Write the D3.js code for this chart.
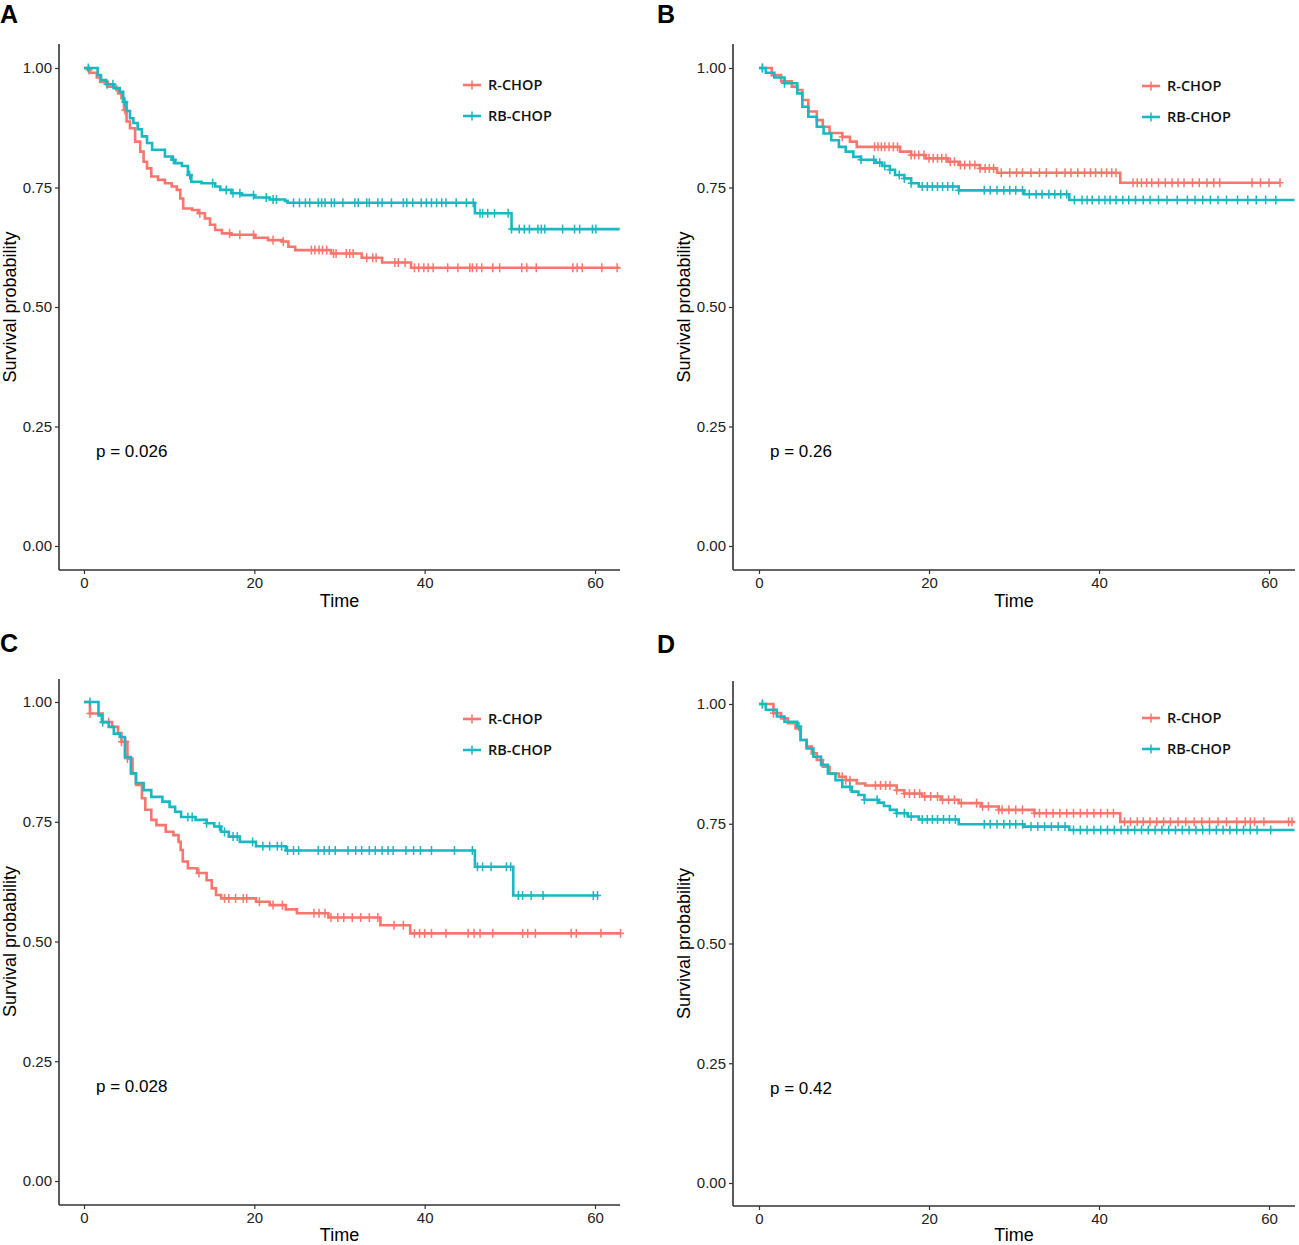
<!DOCTYPE html>
<html>
<head>
<meta charset="utf-8">
<script src="https://cdn.jsdelivr.net/npm/d3@7"></script>
<style>
  html, body { margin: 0; padding: 0; background: #fff; }
  svg { display: block; }
</style>
</head>
<body>
<svg id="chart" width="1299" height="1245"></svg>
<script>
// ---------------- DATA ----------------
const panelLetters = ["A", "B", "C", "D"];
const groups = ["R-CHOP", "RB-CHOP"];
const pValues = ["p = 0.026", "p = 0.26", "p = 0.028", "p = 0.42"];
const timeTicks = [0, 20, 40, 60];
const survTicks = [0, 0.25, 0.5, 0.75, 1.0];
const survTickLabels = ["0.00", "0.25", "0.50", "0.75", "1.00"];
const xTitle = "Time";
const yTitle = "Survival probability";

// Panel A
const A_rchop_time = [0, 0.5, 0.7, 1.5, 1.9, 2.8, 3.8, 4.0, 4.4, 4.7, 5.0, 5.4, 6.0, 6.6, 7.0, 7.4, 7.9, 8.7, 9.5, 10.3, 10.9, 11.3, 11.65, 12.7, 13.4, 14.2, 14.8, 15.4, 16.2, 17.3, 20.1, 21.6, 23.2, 24.0, 24.8, 29.0, 32.6, 35.0, 38.4, 62.9];
const A_rchop_surv = [1.0, 0.996, 0.99, 0.98, 0.971, 0.961, 0.954, 0.947, 0.937, 0.912, 0.888, 0.874, 0.846, 0.825, 0.804, 0.79, 0.773, 0.766, 0.759, 0.752, 0.745, 0.727, 0.706, 0.703, 0.696, 0.685, 0.672, 0.661, 0.654, 0.651, 0.645, 0.640, 0.637, 0.626, 0.619, 0.612, 0.603, 0.593, 0.582, 0.582];
const A_rchop_censor = [0.6, 4.8, 13.6, 17.1, 18.3, 19.9, 22.2, 23.4, 26.7, 27.1, 27.6, 28.0, 28.5, 29.3, 29.6, 30.8, 31.2, 31.6, 33.2, 33.9, 34.3, 36.5, 36.9, 37.7, 38.8, 39.3, 39.9, 40.4, 41.0, 42.7, 43.9, 45.3, 45.6, 46.1, 46.7, 48.0, 48.8, 51.4, 52.0, 53.1, 57.4, 57.9, 58.5, 60.8, 62.6];
const A_rbchop_time = [0, 1.6, 2.0, 2.6, 3.5, 4.2, 4.6, 5.0, 5.4, 5.8, 6.3, 6.8, 7.4, 8.0, 9.5, 10.3, 10.7, 11.5, 12.2, 12.6, 13.8, 15.4, 16.0, 17.3, 18.5, 20.0, 21.8, 23.6, 23.9, 45.9, 50.2, 62.9];
const A_rbchop_surv = [1.0, 0.985, 0.975, 0.966, 0.958, 0.95, 0.929, 0.91, 0.895, 0.885, 0.872, 0.857, 0.843, 0.829, 0.815, 0.808, 0.801, 0.795, 0.776, 0.762, 0.759, 0.752, 0.745, 0.738, 0.734, 0.729, 0.725, 0.722, 0.718, 0.696, 0.663, 0.663];
const A_rbchop_censor = [0.5, 2.7, 3.4, 4.8, 10.5, 12.4, 15.1, 16.7, 17.5, 18.3, 19.9, 21.4, 22.2, 22.6, 24.6, 25.3, 26.0, 26.5, 27.5, 27.9, 28.3, 29.05, 29.4, 30.4, 31.8, 32.2, 33.2, 33.5, 34.5, 35.0, 36.1, 37.5, 37.9, 38.6, 39.6, 40.2, 40.8, 41.4, 42.0, 42.5, 43.7, 44.9, 45.7, 46.5, 46.8, 47.4, 48.2, 49.8, 50.2, 51.1, 51.7, 52.3, 53.3, 53.7, 54.1, 56.2, 57.6, 58.2, 59.7, 60.1];

// Panel B
const B_rchop_time = [0, 1.5, 2.6, 3.85, 4.5, 5.1, 5.8, 6.8, 7.5, 8.3, 9.8, 10.7, 11.5, 16.6, 17.9, 19.6, 22.2, 23.5, 26.0, 28.0, 42.5, 61.3];
const B_rchop_surv = [1.0, 0.985, 0.972, 0.961, 0.954, 0.933, 0.909, 0.891, 0.877, 0.864, 0.856, 0.846, 0.835, 0.825, 0.818, 0.811, 0.804, 0.797, 0.79, 0.781, 0.760, 0.760];
const B_rchop_censor = [0.4, 9.8, 13.6, 14.0, 14.4, 14.8, 15.3, 15.8, 16.3, 17.9, 18.3, 18.8, 19.4, 20.0, 20.5, 21.0, 21.5, 22.0, 22.5, 23.0, 23.7, 24.2, 24.8, 25.4, 26.0, 26.6, 27.1, 27.6, 28.5, 29.5, 30.3, 31.0, 32.0, 33.0, 33.8, 35.0, 36.0, 36.7, 37.5, 38.3, 39.0, 39.6, 40.3, 40.9, 41.5, 42.0, 44.0, 44.5, 45.0, 45.6, 46.2, 47.0, 47.8, 48.6, 49.3, 50.0, 51.0, 51.8, 52.7, 53.5, 54.2, 58.0, 59.0, 60.0, 61.3];
const B_rbchop_time = [0, 0.8, 1.8, 3.0, 4.5, 5.1, 5.8, 6.8, 7.6, 8.5, 9.4, 10.2, 11.1, 12.0, 13.7, 14.5, 15.4, 16.0, 17.1, 17.9, 18.8, 23.5, 31.2, 36.5, 63.0];
const B_rbchop_surv = [1.0, 0.99, 0.98, 0.968, 0.947, 0.919, 0.898, 0.877, 0.863, 0.849, 0.835, 0.825, 0.814, 0.808, 0.802, 0.795, 0.787, 0.776, 0.769, 0.759, 0.752, 0.744, 0.736, 0.724, 0.724];
const B_rbchop_censor = [0.4, 3.0, 12.0, 13.5, 14.2, 14.8, 15.4, 16.5, 17.1, 17.9, 19.2, 19.8, 20.4, 21.0, 21.6, 22.2, 22.8, 23.5, 26.5, 27.2, 28.0, 28.8, 29.5, 30.2, 31.0, 31.8, 32.6, 33.3, 34.1, 34.8, 35.5, 36.2, 37.1, 38.0, 38.6, 39.2, 40.0, 40.7, 41.3, 42.0, 42.8, 43.5, 44.3, 45.2, 46.0, 47.0, 48.0, 49.2, 50.4, 51.3, 52.2, 53.1, 54.0, 55.0, 56.3, 57.5, 58.5, 59.6, 60.8];

// Panel C
const C_rchop_time = [0, 0.7, 2.2, 3.3, 4.0, 4.4, 5.1, 5.7, 6.1, 6.8, 7.2, 7.9, 8.5, 9.6, 10.5, 11.1, 11.35, 11.6, 12.2, 13.3, 14.4, 15.0, 15.5, 16.1, 20.2, 21.8, 23.7, 25.0, 28.7, 34.8, 38.3, 63.0];
const C_rchop_surv = [1.0, 0.976, 0.958, 0.948, 0.935, 0.917, 0.882, 0.851, 0.827, 0.799, 0.775, 0.754, 0.743, 0.729, 0.722, 0.708, 0.691, 0.667, 0.653, 0.643, 0.628, 0.611, 0.597, 0.590, 0.583, 0.576, 0.567, 0.559, 0.550, 0.534, 0.517, 0.517];
const C_rchop_censor = [0.7, 2.9, 4.4, 4.9, 5.1, 13.5, 16.5, 17.0, 17.8, 18.7, 19.1, 20.6, 22.2, 23.3, 27.0, 27.6, 28.3, 29.0, 29.8, 30.5, 31.5, 32.5, 33.5, 34.5, 36.4, 37.5, 38.8, 39.4, 40.0, 40.8, 42.5, 45.1, 45.8, 46.5, 48.0, 51.5, 52.1, 53.0, 57.2, 57.8, 60.7, 63.0];
const C_rbchop_time = [0, 1.7, 2.1, 2.9, 3.5, 4.2, 4.8, 5.5, 6.1, 7.0, 7.9, 9.2, 10.05, 10.7, 11.4, 13.1, 14.4, 15.3, 16.1, 17.0, 18.3, 20.2, 23.7, 45.9, 50.4, 60.4];
const C_rbchop_surv = [1.0, 0.972, 0.958, 0.948, 0.934, 0.927, 0.885, 0.851, 0.831, 0.816, 0.802, 0.792, 0.781, 0.771, 0.760, 0.754, 0.747, 0.740, 0.729, 0.719, 0.708, 0.699, 0.690, 0.656, 0.596, 0.596];
const C_rbchop_censor = [0.7, 2.2, 12.2, 12.7, 14.4, 15.9, 16.5, 17.5, 18.0, 19.8, 21.0, 21.8, 22.7, 23.2, 23.9, 24.6, 25.2, 27.5, 28.2, 28.8, 29.5, 31.0, 31.9, 32.6, 33.5, 34.2, 35.0, 35.7, 36.3, 37.8, 38.7, 39.5, 40.8, 43.5, 45.6, 46.2, 46.8, 47.8, 49.6, 50.1, 51.0, 51.5, 52.5, 53.9, 59.8, 60.3];

// Panel D
const D_rchop_time = [0, 1.7, 2.6, 3.4, 4.3, 4.9, 5.6, 6.2, 6.8, 7.5, 8.3, 9.4, 10.2, 11.5, 12.5, 16.2, 17.1, 19.2, 21.4, 23.5, 26.1, 28.2, 32.4, 42.5, 63.0];
const D_rchop_surv = [1.0, 0.981, 0.970, 0.960, 0.949, 0.925, 0.911, 0.897, 0.883, 0.869, 0.855, 0.848, 0.841, 0.834, 0.830, 0.820, 0.813, 0.807, 0.800, 0.793, 0.786, 0.779, 0.772, 0.754, 0.754];
const D_rchop_censor = [0.4, 1.7, 7.3, 9.8, 10.2, 10.7, 13.7, 14.3, 14.9, 15.4, 16.2, 17.1, 17.7, 18.3, 18.9, 19.5, 20.2, 21.0, 21.6, 22.3, 23.0, 23.8, 25.6, 26.3, 27.0, 28.2, 28.6, 29.4, 30.2, 31.0, 32.4, 33.0, 33.8, 34.6, 35.4, 36.2, 37.0, 37.8, 38.6, 39.4, 40.2, 41.0, 41.7, 43.0, 43.7, 44.5, 45.2, 46.0, 46.8, 47.6, 48.4, 49.3, 50.2, 51.2, 52.1, 53.0, 54.0, 55.0, 56.2, 57.2, 57.8, 58.3, 59.4, 62.3, 62.7];
const D_rbchop_time = [0, 0.8, 2.1, 3.0, 4.5, 4.9, 5.6, 6.4, 7.3, 8.1, 9.0, 9.8, 10.9, 11.7, 12.4, 14.1, 14.7, 15.4, 16.2, 17.5, 18.8, 23.5, 31.2, 36.5, 63.0];
const D_rbchop_surv = [1.0, 0.988, 0.974, 0.963, 0.953, 0.925, 0.907, 0.890, 0.873, 0.855, 0.841, 0.827, 0.817, 0.810, 0.800, 0.794, 0.787, 0.779, 0.772, 0.765, 0.759, 0.749, 0.744, 0.737, 0.737];
const D_rbchop_censor = [0.4, 4.7, 10.7, 12.4, 13.9, 16.2, 17.1, 17.9, 19.2, 19.8, 20.4, 21.0, 21.7, 22.4, 23.1, 26.5, 27.2, 28.0, 28.8, 29.5, 30.2, 31.0, 32.0, 32.8, 33.6, 34.4, 35.2, 36.0, 37.0, 37.8, 38.6, 39.4, 40.2, 41.0, 41.8, 42.6, 43.4, 44.2, 45.0, 45.8, 46.6, 47.4, 48.2, 49.0, 49.8, 50.6, 51.4, 52.2, 53.0, 53.8, 54.6, 55.4, 56.2, 57.0, 57.8, 58.6, 60.2];

// ---------------- LAYOUT / STYLE ----------------
const colors = ["#F8766D", "#19B8C2"];
const panels = [
  { left: 59,  right: 620,  top: 44,  bottom: 570,  x0: 84,  x60: 595,  y1: 68,  y0: 546,
    curves: [[A_rchop_time, A_rchop_surv, A_rchop_censor], [A_rbchop_time, A_rbchop_surv, A_rbchop_censor]],
    letterX: 0, letterY: 23, legX: 463, legY: 85, pX: 96, pY: 457, titleY: 607 },
  { left: 733, right: 1295, top: 44,  bottom: 570,  x0: 759, x60: 1269, y1: 68,  y0: 546,
    curves: [[B_rchop_time, B_rchop_surv, B_rchop_censor], [B_rbchop_time, B_rbchop_surv, B_rbchop_censor]],
    letterX: 657, letterY: 23, legX: 1142, legY: 86, pX: 770, pY: 457, titleY: 607 },
  { left: 59,  right: 620,  top: 679, bottom: 1205, x0: 84,  x60: 595,  y1: 702, y0: 1181,
    curves: [[C_rchop_time, C_rchop_surv, C_rchop_censor], [C_rbchop_time, C_rbchop_surv, C_rbchop_censor]],
    letterX: 0, letterY: 652, legX: 463, legY: 719, pX: 96, pY: 1092, titleY: 1241 },
  { left: 733, right: 1295, top: 681, bottom: 1206, x0: 759, x60: 1269, y1: 704, y0: 1183,
    curves: [[D_rchop_time, D_rchop_surv, D_rchop_censor], [D_rbchop_time, D_rbchop_surv, D_rbchop_censor]],
    letterX: 657, letterY: 653, legX: 1142, legY: 718, pX: 770, pY: 1094, titleY: 1241 }
];

const svg = d3.select("#chart");
const axisColor = "#333333";
const fontMain = "'Liberation Sans', Arial, sans-serif";

panels.forEach((p, pi) => {
  const x = d3.scaleLinear().domain([0, 60]).range([p.x0, p.x60]);
  const y = d3.scaleLinear().domain([0, 1]).range([p.y0, p.y1]);
  const g = svg.append("g");

  // panel letter
  g.append("text").attr("x", p.letterX).attr("y", p.letterY)
    .attr("font-family", fontMain).attr("font-weight", "bold").attr("font-size", 25)
    .attr("fill", "#000").text(panelLetters[pi]);

  // axes
  const xAxis = d3.axisBottom(x).tickValues(timeTicks).tickSize(4).tickPadding(3);
  const gx = g.append("g").attr("transform", `translate(0,${p.bottom})`).call(xAxis);
  gx.select(".domain").remove();
  gx.append("line").attr("x1", p.left).attr("x2", p.right).attr("y1", 0).attr("y2", 0)
    .attr("stroke", axisColor).attr("stroke-width", 1.6);
  gx.selectAll(".tick line").attr("stroke", axisColor).attr("stroke-width", 1.2);
  gx.selectAll(".tick text").attr("font-family", fontMain).attr("font-size", 15).attr("fill", "#222");

  const yAxis = d3.axisLeft(y).tickValues(survTicks).tickSize(4).tickPadding(3)
    .tickFormat((d, i) => survTickLabels[i]);
  const gy = g.append("g").attr("transform", `translate(${p.left},0)`).call(yAxis);
  gy.select(".domain").remove();
  gy.append("line").attr("x1", 0).attr("x2", 0).attr("y1", p.top).attr("y2", p.bottom)
    .attr("stroke", axisColor).attr("stroke-width", 1.6);
  gy.selectAll(".tick line").attr("stroke", axisColor).attr("stroke-width", 1.2);
  gy.selectAll(".tick text").attr("font-family", fontMain).attr("font-size", 15).attr("fill", "#222");

  // axis titles
  g.append("text").attr("x", (p.left + p.right) / 2).attr("y", p.titleY)
    .attr("text-anchor", "middle").attr("font-family", fontMain).attr("font-size", 18)
    .attr("fill", "#000").text(xTitle);
  const yc = (p.y0 + p.y1) / 2;
  g.append("text").attr("transform", `translate(${p.left - 43},${yc}) rotate(-90)`)
    .attr("text-anchor", "middle").attr("font-family", fontMain).attr("font-size", 18)
    .attr("fill", "#000").text(yTitle);

  // curves
  const line = d3.line().x(d => x(d[0])).y(d => y(d[1])).curve(d3.curveStepAfter);
  p.curves.forEach((c, ci) => {
    const [times, surv, cens] = c;
    const pts = times.map((t, i) => [t, surv[i]]);
    g.append("path").datum(pts).attr("d", line)
      .attr("fill", "none").attr("stroke", colors[ci]).attr("stroke-width", 2.6)
      .attr("stroke-linejoin", "miter");
    const sAt = t => {
      let v = surv[0];
      for (let i = 0; i < times.length; i++) { if (times[i] <= t) v = surv[i]; }
      return v;
    };
    const cg = g.append("g").attr("stroke", colors[ci]).attr("stroke-width", 1.5);
    cens.forEach(t => {
      const cx = x(t), cy = y(sAt(t));
      cg.append("line").attr("x1", cx).attr("x2", cx).attr("y1", cy - 4.5).attr("y2", cy + 4.5);
      cg.append("line").attr("x1", cx - 3.5).attr("x2", cx + 3.5).attr("y1", cy).attr("y2", cy);
    });
  });

  // legend
  groups.forEach((name, gi) => {
    const ly = p.legY + gi * 31;
    const lg = g.append("g");
    lg.append("line").attr("x1", p.legX).attr("x2", p.legX + 18).attr("y1", ly).attr("y2", ly)
      .attr("stroke", colors[gi]).attr("stroke-width", 2.6);
    lg.append("line").attr("x1", p.legX + 9).attr("x2", p.legX + 9).attr("y1", ly - 4.5).attr("y2", ly + 4.5)
      .attr("stroke", colors[gi]).attr("stroke-width", 1.5);
    lg.append("text").attr("x", p.legX + 25).attr("y", ly + 5)
      .attr("font-family", "'Open Sans', sans-serif").attr("font-weight", 600).attr("font-size", 14.5)
      .attr("fill", "#111").text(name);
  });

  // p-value
  g.append("text").attr("x", p.pX).attr("y", p.pY)
    .attr("font-family", fontMain).attr("font-size", 17).attr("fill", "#000").text(pValues[pi]);
});
</script>
</body>
</html>
